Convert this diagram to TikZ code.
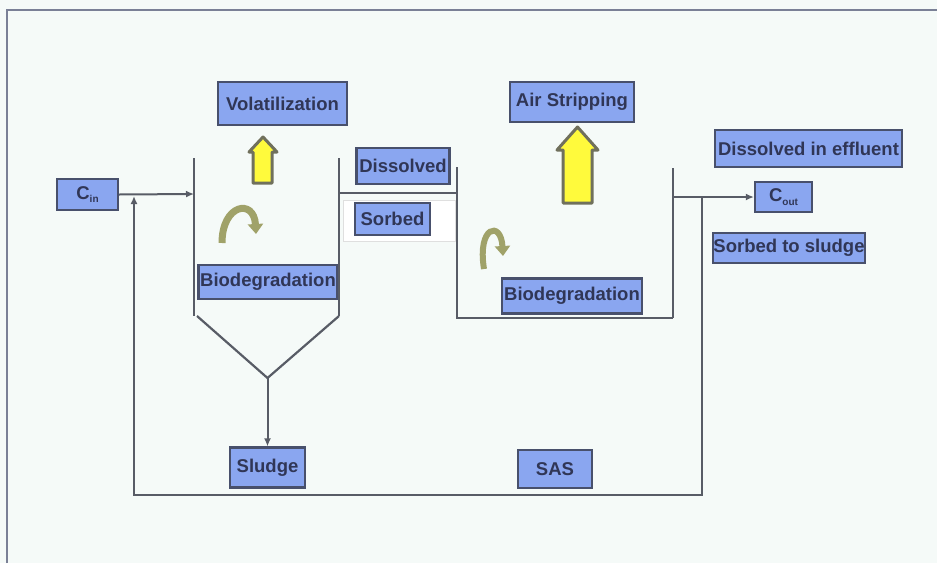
\documentclass[tikz,border=0pt]{standalone}
\usepackage{fontspec}
\setmainfont{Liberation Sans}
\usetikzlibrary{arrows.meta}
\definecolor{bg}{RGB}{245,250,248}
\definecolor{boxfill}{RGB}{138,166,240}
\definecolor{boxedge}{RGB}{72,80,108}
\definecolor{boxtext}{RGB}{48,54,86}
\definecolor{wire}{RGB}{88,92,102}
\definecolor{framec}{RGB}{122,128,150}
\definecolor{upfill}{RGB}{255,250,60}
\definecolor{upedge}{RGB}{112,112,92}
\definecolor{bioarrow}{RGB}{160,162,105}
\tikzset{
  bx/.style={draw=boxedge, fill=boxfill, line width=2.2pt, inner sep=0pt,
    text=boxtext, font=\fontsize{18.5}{18.5}\selectfont\bfseries},
  wall/.style={draw=wire, line width=2.2pt},
  flow/.style={draw=wire, line width=2pt, -{Latex[length=8pt,width=7pt]}},
  rise/.style={fill=upfill, draw=upedge, line width=3pt, line join=round},
  bioloop/.style={draw=bioarrow, line width=7pt, -{Triangle[length=10pt,width=15pt]}},
}
\newcommand{\subtxt}[1]{\raisebox{-0.35ex}{\fontsize{10}{10}\selectfont #1}}
\begin{document}
\begin{tikzpicture}[x=1pt, y=-1pt]
  \useasboundingbox (0,0) rectangle (937,563);
  \fill[bg] (0,0) rectangle (937,563);
  % outer frame (top and left edges)
  \draw[framec, line width=2.5pt] (7,563) -- (7,10) -- (937,10);

  % labels
  \node[bx, minimum width=61pt, minimum height=31pt] (cin) at (87.5,194.5) {C\subtxt{in}};
  \node[bx, minimum width=129pt, minimum height=43pt] (vol) at (282.5,103.5) {Volatilization};
  \node[bx, minimum width=124pt, minimum height=40pt] (air) at (572,102) {Air Stripping};
  \node[bx, minimum width=93pt, minimum height=36pt] (dis) at (403,166) {Dissolved};
  \draw[gray!25, line width=1pt, fill=white] (343,200) rectangle (455,241);
  \node[bx, minimum width=75pt, minimum height=32pt] (sorb) at (392.5,219) {Sorbed};
  \node[bx, minimum width=139pt, minimum height=34pt] (bio1) at (268,282) {Biodegradation};
  \node[bx, minimum width=140pt, minimum height=35pt] (bio2) at (572,296) {Biodegradation};
  \node[bx, minimum width=187pt, minimum height=37pt] (dise) at (808.5,148.5) {Dissolved in effluent};
  \node[bx, minimum width=57pt, minimum height=30pt] (cout) at (783.5,197) {C\subtxt{out}};
  \node[bx, minimum width=152pt, minimum height=30pt] (ssl) at (789,248) {Sorbed to sludge};
  \node[bx, minimum width=75pt, minimum height=40pt] (sludge) at (267.5,467.5) {Sludge};
  \node[bx, minimum width=74pt, minimum height=38pt] (sas) at (555,469) {SAS};

  % key points of the tanks and pipes
  \coordinate (inlet) at (194,194);
  \coordinate (apex) at (267.5,378);
  \coordinate (outlet) at (702,197);
  \coordinate (retR) at (702,495);
  \coordinate (retL) at (134,495);
  \coordinate (join) at (134,196);

  % first tank with hopper bottom
  \draw[wall] (194,158) -- (194,316);
  \draw[wall] (339,158) -- (339,316);
  \draw[wall] (197,316) -- (apex) -- (339,316);
  \draw[flow] (apex) -- (sludge.north);

  % pipe to second tank
  \draw[wall] (339,193) -- (457,193);

  % second tank
  \draw[wall] (457,167) -- (457,318) -- (673,318);
  \draw[wall] (673,168) -- (673,318);

  % inlet, outlet and return line
  \draw[flow] (cin.east) -- (inlet);
  \draw[flow] (673,197) -- (cout.west);
  \draw[wall] (outlet) -- (retR) -- (retL) -- (134,205);
  \draw[flow] (134,215) -- (join);

  % upward release arrows
  \draw[rise] (263,137) -- (277,152) -- (272,152) -- (272,183) -- (253,183)
    -- (253,152) -- (249,152) -- cycle;
  \draw[rise] (577.5,127) -- (598,150) -- (592,150) -- (592,203) -- (563,203)
    -- (563,150) -- (557,150) -- cycle;

  % biodegradation loops
  \draw[bioloop] (222,243) .. controls (222,204) and (254,198) .. (256,234);
  \draw[bioloop, line width=6pt] (484,269) .. controls (477,226) and (501,220) .. (503,256);
\end{tikzpicture}
\end{document}
